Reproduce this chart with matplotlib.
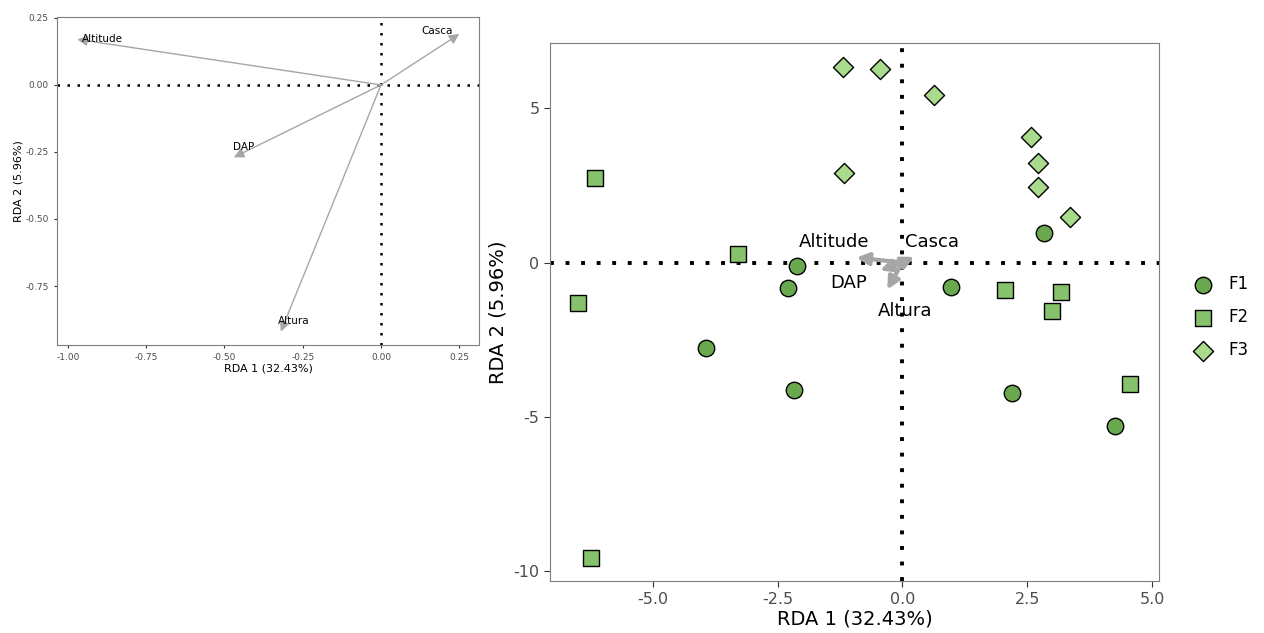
import matplotlib.pyplot as plt

plt.rcParams['axes.unicode_minus'] = False

# loadings (setas)
variaveis = ['Altitude', 'Casca', 'DAP', 'Altura']
load_x = [-0.97, 0.25, -0.47, -0.32]
load_y = [0.17, 0.19, -0.27, -0.92]

# scores por grupo
f1_x = [2.84, -2.12, -2.30, -3.94, -2.18, 0.98, 2.20, 4.26]
f1_y = [0.97, -0.10, -0.81, -2.76, -4.12, -0.78, -4.22, -5.29]
f2_x = [-6.16, -3.30, -6.50, -6.24, 2.06, 3.18, 3.00, 4.56]
f2_y = [2.73, 0.26, -1.30, -9.58, -0.88, -0.94, -1.56, -3.93]
f3_x = [-1.18, -0.44, 0.64, -1.16, 2.58, 2.72, 2.72, 3.36]
f3_y = [6.33, 6.27, 5.42, 2.89, 4.06, 3.21, 2.44, 1.49]

grupos = ['F1', 'F2', 'F3']
cores = ['#6aa84f', '#86c26c', '#a8dc8c']
marcadores = ['o', 's', 'D']
tamanhos = [140, 125, 105]

cinza = '#a6a6a6'
txt_cinza = '#4d4d4d'

fig = plt.figure(figsize=(12.64, 6.33), dpi=100)

# ---- painel da esquerda
ax1 = fig.add_axes([0.045, 0.455, 0.334, 0.518])
ax1.axhline(0, color='black', ls=(0, (1, 3)), lw=1.8)
ax1.axvline(0, color='black', ls=(0, (1, 3)), lw=1.8)
for x, y in zip(load_x, load_y):
    ax1.annotate('', xy=(x, y), xytext=(0, 0),
                 arrowprops=dict(arrowstyle='-|>', color=cinza, lw=1.0,
                                 mutation_scale=15, shrinkA=0, shrinkB=0))
rot1_x = [-0.89, 0.18, -0.44, -0.28]
rot1_y = [0.17, 0.20, -0.23, -0.88]
for nome, x, y in zip(variaveis, rot1_x, rot1_y):
    ax1.text(x, y, nome, fontsize=7.5, ha='center', va='center')
ax1.set_xlim(-1.035, 0.313)
ax1.set_ylim(-0.97, 0.253)
ax1.set_xticks([-1.0, -0.75, -0.5, -0.25, 0.0, 0.25])
ax1.set_xticklabels(['-1.00', '-0.75', '-0.50', '-0.25', '0.00', '0.25'])
ax1.set_yticks([0.25, 0.0, -0.25, -0.5, -0.75])
ax1.set_yticklabels(['0.25', '0.00', '-0.25', '-0.50', '-0.75'])
ax1.tick_params(labelsize=6.5, labelcolor=txt_cinza, length=2.5, color='#333333')
ax1.set_xlabel('RDA 1 (32.43%)', fontsize=8, labelpad=1)
ax1.set_ylabel('RDA 2 (5.96%)', fontsize=8, labelpad=1)
for s in ax1.spines.values():
    s.set_color('#7f7f7f')

# ---- painel da direita
ax2 = fig.add_axes([0.435, 0.082, 0.482, 0.85])
ax2.axhline(0, color='black', ls=(0, (1, 3)), lw=2.8, zorder=1)
ax2.axvline(0, color='black', ls=(0, (1, 3)), lw=2.8, zorder=1)

xs = [f1_x, f2_x, f3_x]
ys = [f1_y, f2_y, f3_y]
for g, x, y, c, m, t in zip(grupos, xs, ys, cores, marcadores, tamanhos):
    ax2.scatter(x, y, s=t, marker=m, c=c, edgecolors='black',
                linewidths=1.0, label=g, zorder=3)

escala = 0.95
for x, y in zip(load_x, load_y):
    ax2.annotate('', xy=(x * escala, y * escala), xytext=(0, 0),
                 arrowprops=dict(arrowstyle='-|>', color=cinza, lw=3,
                                 mutation_scale=18, shrinkA=0, shrinkB=0),
                 zorder=2)
rot_x = [-1.36, 0.60, -1.08, 0.06]
rot_y = [0.68, 0.68, -0.65, -1.56]
for nome, x, y in zip(variaveis, rot_x, rot_y):
    ax2.text(x, y, nome, fontsize=13, ha='center', va='center', zorder=4)

ax2.set_xlim(-7.06, 5.14)
ax2.set_ylim(-10.32, 7.11)
ax2.set_xticks([-5.0, -2.5, 0.0, 2.5, 5.0])
ax2.set_xticklabels(['-5.0', '-2.5', '0.0', '2.5', '5.0'])
ax2.set_yticks([5, 0, -5, -10])
ax2.tick_params(labelsize=11.5, labelcolor=txt_cinza, length=4, color='#333333')
ax2.set_xlabel('RDA 1 (32.43%)', fontsize=14, labelpad=2)
ax2.set_ylabel('RDA 2 (5.96%)', fontsize=14, labelpad=4)
for s in ax2.spines.values():
    s.set_color('#7f7f7f')

ax2.legend(loc='center left', bbox_to_anchor=(1.02, 0.49), frameon=False,
           fontsize=12, labelspacing=0.9, handletextpad=0.5, markerscale=1.0)

fig.savefig('out.png', dpi=100)
